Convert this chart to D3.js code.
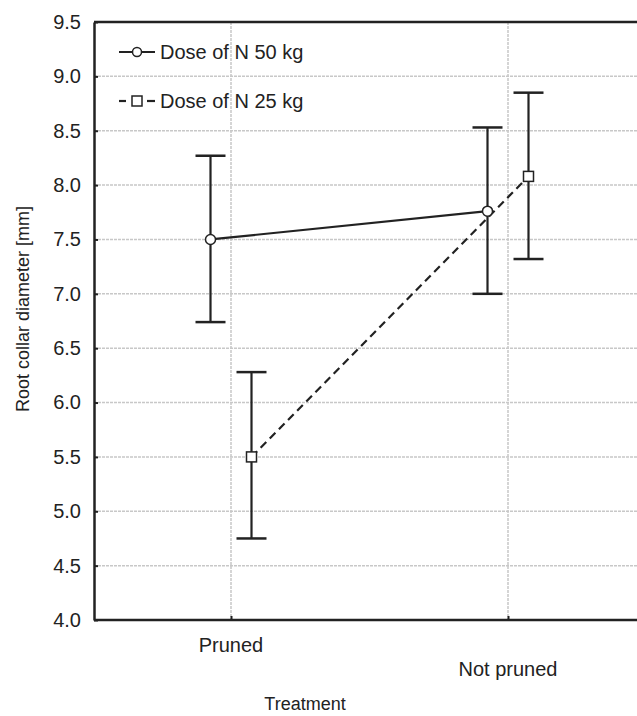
<!DOCTYPE html>
<html>
<head>
<meta charset="utf-8">
<script src="https://cdn.jsdelivr.net/npm/d3@7"></script>
<style>
  body { margin: 0; background: #fff; }
  text { font-family: "Liberation Sans", Arial, sans-serif; fill: #222; }
</style>
</head>
<body>
<script>
// data
var treatments = ['Pruned', 'Not pruned'];
var seriesNames = ['Dose of N 50 kg', 'Dose of N 25 kg'];
var means50 = [7.50, 7.76];
var upper50 = [8.27, 8.53];
var lower50 = [6.74, 7.00];
var means25 = [5.50, 8.08];
var upper25 = [6.28, 8.85];
var lower25 = [4.75, 7.32];
var yTicks = [4.0, 4.5, 5.0, 5.5, 6.0, 6.5, 7.0, 7.5, 8.0, 8.5, 9.0, 9.5];

var W = 637, H = 716;
var margin = {top: 22, right: -6, bottom: 96, left: 94};
var width = W - margin.left - margin.right,
    height = H - margin.top - margin.bottom;

var svg = d3.select('body').append('svg')
  .attr('width', W).attr('height', H);
var g = svg.append('g')
  .attr('transform', 'translate(' + margin.left + ',' + margin.top + ')');

// category positions inside the plot
var x = d3.scalePoint().domain(treatments).range([137, 414]);
var y = d3.scaleLinear().domain([4, 9.5]).range([height, 0]);

// grid
g.append('g').selectAll('line').data(yTicks.slice(1, -1)).enter().append('line')
  .attr('x1', 0).attr('x2', width)
  .attr('y1', function(d){ return y(d); }).attr('y2', function(d){ return y(d); })
  .attr('stroke', '#c8c8c8').attr('stroke-width', 1.5).attr('stroke-dasharray', '3,1');
g.append('g').selectAll('line').data(treatments).enter().append('line')
  .attr('x1', function(d){ return x(d); }).attr('x2', function(d){ return x(d); })
  .attr('y1', 0).attr('y2', height)
  .attr('stroke', '#c8c8c8').attr('stroke-width', 1.5).attr('stroke-dasharray', '3,1');

// axes
var yAxis = d3.axisLeft(y).tickValues(yTicks).tickFormat(d3.format('.1f')).tickSizeInner(-4).tickSizeOuter(0).tickPadding(13);
var ya = g.append('g').call(yAxis);
ya.select('.domain').attr('stroke', '#222').attr('stroke-width', 2.5);
ya.selectAll('.tick line').attr('stroke', '#222').attr('stroke-width', 2);
ya.selectAll('text').style('font-size', '20px').attr('fill', '#222');

var xAxis = d3.axisBottom(x).tickSizeInner(-4).tickSizeOuter(0).tickFormat('');
var xa = g.append('g').attr('transform', 'translate(0,' + height + ')').call(xAxis);
xa.select('.domain').remove();
xa.append('line').attr('x1', 0).attr('x2', width).attr('stroke', '#222').attr('stroke-width', 2.5);
xa.selectAll('.tick line').attr('stroke', '#222').attr('stroke-width', 2);

// staggered category labels
g.append('g').selectAll('text').data(treatments).enter().append('text')
  .attr('x', function(d){ return x(d); })
  .attr('y', function(d, i){ return height + 32 + i * 24; })
  .attr('text-anchor', 'middle').style('font-size', '20px')
  .text(function(d){ return d; });

// top border
g.append('line').attr('x1', 0).attr('x2', width).attr('y1', 0).attr('y2', 0)
  .attr('stroke', '#222').attr('stroke-width', 2.5);

// axis titles
svg.append('text').attr('x', 305).attr('y', 710).attr('text-anchor', 'middle')
  .style('font-size', '18px').text('Treatment');
svg.append('text').attr('transform', 'translate(29,309) rotate(-90)')
  .attr('text-anchor', 'middle').style('font-size', '18px').text('Root collar diameter [mm]');

var offset = [-20.5, 20.5];
var series = [
  {name: seriesNames[0], m: means50, u: upper50, l: lower50, dash: null, shape: 'circle'},
  {name: seriesNames[1], m: means25, u: upper25, l: lower25, dash: '8,5', shape: 'square'}
];

series.forEach(function(s, si){
  var px = function(d, i){ return x(treatments[i]) + offset[si]; };
  // error bars
  var eb = g.append('g');
  treatments.forEach(function(t, i){
    var cx = x(t) + offset[si];
    eb.append('line').attr('x1', cx).attr('x2', cx).attr('y1', y(s.u[i])).attr('y2', y(s.l[i]))
      .attr('stroke', '#222').attr('stroke-width', 2.2);
    [s.u[i], s.l[i]].forEach(function(v){
      eb.append('line').attr('x1', cx - 15).attr('x2', cx + 15).attr('y1', y(v)).attr('y2', y(v))
        .attr('stroke', '#222').attr('stroke-width', 2.5);
    });
  });
  // mean line
  var line = d3.line().x(px).y(function(d){ return y(d); });
  g.append('path').datum(s.m).attr('d', line).attr('fill', 'none')
    .attr('stroke', '#222').attr('stroke-width', 2.2)
    .attr('stroke-dasharray', s.dash);
});

// markers on top
series.forEach(function(s, si){
  s.m.forEach(function(v, i){
    var cx = x(treatments[i]) + offset[si], cy = y(v);
    if (s.shape === 'circle') {
      g.append('circle').attr('cx', cx).attr('cy', cy).attr('r', 5)
        .attr('fill', '#fff').attr('stroke', '#222').attr('stroke-width', 1.5);
    } else {
      g.append('rect').attr('x', cx - 5).attr('y', cy - 5).attr('width', 10).attr('height', 10)
        .attr('fill', '#fff').attr('stroke', '#222').attr('stroke-width', 1.5);
    }
  });
});

// legend
var leg = svg.append('g').attr('transform', 'translate(119,52)');
series.forEach(function(s, si){
  var row = leg.append('g').attr('transform', 'translate(0,' + (si * 49) + ')');
  if (s.shape === 'circle') {
    row.append('line').attr('x1', 0).attr('x2', 36).attr('y1', 0).attr('y2', 0)
      .attr('stroke', '#222').attr('stroke-width', 2.2);
    row.append('circle').attr('cx', 18).attr('cy', 0).attr('r', 4.5)
      .attr('fill', '#fff').attr('stroke', '#222').attr('stroke-width', 1.5);
  } else {
    row.append('line').attr('x1', 0).attr('x2', 7).attr('y1', 0).attr('y2', 0)
      .attr('stroke', '#222').attr('stroke-width', 2.2);
    row.append('line').attr('x1', 28).attr('x2', 36).attr('y1', 0).attr('y2', 0)
      .attr('stroke', '#222').attr('stroke-width', 2.2);
    row.append('rect').attr('x', 13).attr('y', -5).attr('width', 10).attr('height', 10)
      .attr('fill', '#fff').attr('stroke', '#222').attr('stroke-width', 1.5);
  }
  row.append('text').attr('x', 41).attr('y', 7).style('font-size', '20px').text(s.name);
});
</script>
</body>
</html>
